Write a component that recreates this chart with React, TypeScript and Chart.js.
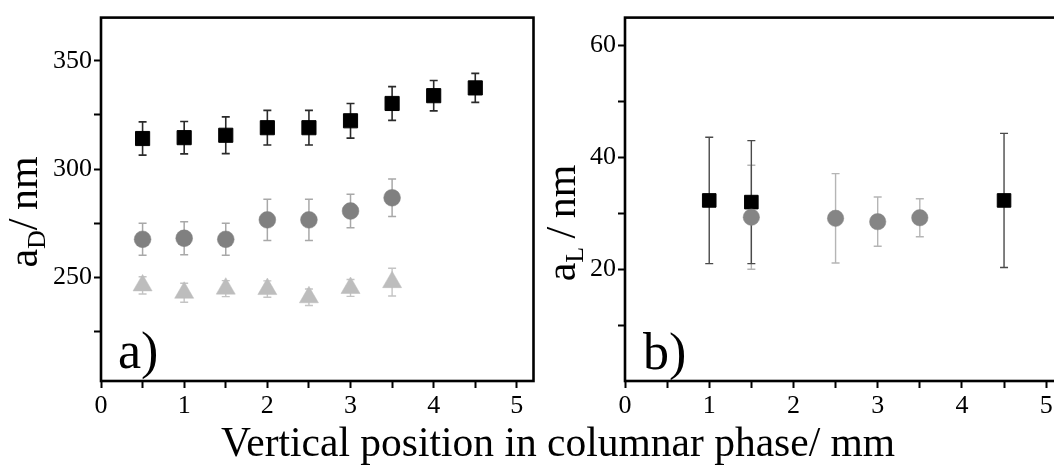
import React, { useEffect, useRef } from "react";
import { Chart, registerables } from "chart.js";

Chart.register(...registerables);

const FONT = "'Liberation Serif', 'Times New Roman', Times, serif";

// ---- axis ticks ----
const xTicks = [0, 0.5, 1, 1.5, 2, 2.5, 3, 3.5, 4, 4.5, 5];
const xTickLabels = ["0", "", "1", "", "2", "", "3", "", "4", "", "5"];
const leftYTicks = [225, 250, 275, 300, 325, 350];
const leftYTickLabels = ["", "250", "", "300", "", "350"];
const rightYTicks = [10, 20, 30, 40, 50, 60];
const rightYTickLabels = ["", "20", "", "40", "", "60"];

// ---- panel a) a_D / nm ----
const aDSquareX = [0.5, 1, 1.5, 2, 2.5, 3, 3.5, 4, 4.5];
const aDSquares = [314.1, 314.5, 315.6, 319.1, 319.1, 322.3, 330.3, 333.9, 337.5];
const aDSquaresErr = [7.7, 7.5, 8.5, 8, 8, 8, 7.8, 7, 6.7];

const aDCircleX = [0.5, 1, 1.5, 2, 2.5, 3, 3.5];
const aDCircles = [267.5, 268, 267.5, 276.5, 276.5, 280.6, 286.7];
const aDCirclesErr = [7.4, 7.6, 7.4, 9.5, 9.5, 7.7, 8.7];

const aDTriangleX = [0.5, 1, 1.5, 2, 2.5, 3, 3.5];
const aDTriangles = [246.2, 242.8, 244.7, 244.5, 240.7, 245.0, 247.7];
const aDTrianglesErr = [4, 4.4, 3.7, 3.8, 3.8, 3.9, 6.4];

// ---- panel b) a_L / nm ----
const aLSquareX = [1, 1.5, 4.5];
const aLSquares = [32.3, 32.0, 32.3];
const aLSquaresErr = [11.3, 11, 12];

const aLCircleX = [1.5, 2.5, 3, 3.5];
const aLCircles = [29.3, 29.1, 28.5, 29.2];
const aLCirclesErr = [9.3, 8, 4.4, 3.4];

const toPoints = (xs: number[], ys: number[]) => xs.map((x, i) => ({ x, y: ys[i] }));

const errorBarPlugin = {
  id: "errorBars",
  beforeDatasetsDraw(chart: any) {
    const ctx = chart.ctx;
    const xs = chart.scales.x;
    const ys = chart.scales.y;
    const area = chart.chartArea;
    ctx.save();
    ctx.beginPath();
    ctx.rect(area.left, area.top, area.right - area.left, area.bottom - area.top);
    ctx.clip();
    chart.data.datasets.forEach((ds: any) => {
      const errs = ds.errors as number[] | undefined;
      if (!errs) return;
      ctx.strokeStyle = ds.errorColor;
      ctx.lineWidth = ds.errorWidth || 1.5;
      const cap = ds.capHalf || 4;
      ds.data.forEach((p: any, j: number) => {
        const x = xs.getPixelForValue(p.x);
        const yTop = ys.getPixelForValue(p.y + errs[j]);
        const yBot = ys.getPixelForValue(p.y - errs[j]);
        ctx.beginPath();
        ctx.moveTo(x, yTop);
        ctx.lineTo(x, yBot);
        ctx.moveTo(x - cap, yTop);
        ctx.lineTo(x + cap, yTop);
        ctx.moveTo(x - cap, yBot);
        ctx.lineTo(x + cap, yBot);
        ctx.stroke();
      });
    });
    ctx.restore();
  },
};

const framePlugin = {
  id: "frame",
  afterDatasetsDraw(chart: any) {
    const ctx = chart.ctx;
    const a = chart.chartArea;
    ctx.save();
    ctx.strokeStyle = "#000";
    ctx.lineWidth = 2.6;
    ctx.strokeRect(a.left, a.top, a.right - a.left, a.bottom - a.top);
    ctx.restore();
  },
};

const textPlugin = {
  id: "panelText",
  afterDraw(chart: any, _args: any, opts: any) {
    const ctx = chart.ctx;
    ctx.save();
    ctx.fillStyle = "#000";
    // panel label
    ctx.font = `${opts.labelSize}px ${FONT}`;
    ctx.textBaseline = "alphabetic";
    ctx.textAlign = "left";
    ctx.fillText(opts.label, opts.labelX, opts.labelY);
    // rotated y title with subscript
    const size = opts.titleSize;
    const subSize = size * 0.62;
    ctx.font = `${size}px ${FONT}`;
    const w1 = ctx.measureText(opts.titleMain).width;
    const w3 = ctx.measureText(opts.titleRest).width;
    ctx.font = `${subSize}px ${FONT}`;
    const w2 = ctx.measureText(opts.titleSub).width;
    const total = w1 + w2 + w3;
    ctx.translate(opts.titleX, opts.titleY);
    ctx.rotate(-Math.PI / 2);
    let x = -total / 2;
    ctx.font = `${size}px ${FONT}`;
    ctx.fillText(opts.titleMain, x, 0);
    x += w1;
    ctx.font = `${subSize}px ${FONT}`;
    ctx.fillText(opts.titleSub, x, size * 0.2);
    x += w2;
    ctx.font = `${size}px ${FONT}`;
    ctx.fillText(opts.titleRest, x, 0);
    ctx.restore();
  },
};

function makeOptions(p: {
  yMin: number;
  yMax: number;
  yTicks: number[];
  yLabels: string[];
  yWidth: number;
  padRight: number;
  text: any;
}) {
  return {
    responsive: false,
    animation: false as const,
    events: [],
    layout: { padding: { top: 15, right: p.padRight, left: 0, bottom: 0 } },
    plugins: {
      legend: { display: false },
      tooltip: { enabled: false },
      panelText: p.text,
    },
    scales: {
      x: {
        type: "linear" as const,
        min: 0,
        max: 5.2,
        afterBuildTicks: (scale: any) => {
          scale.ticks = xTicks.map((v) => ({ value: v }));
        },
        afterFit: (scale: any) => {
          scale.height = 39;
        },
        border: { display: false },
        grid: {
          drawOnChartArea: false,
          drawTicks: true,
          tickLength: 7,
          tickWidth: 2,
          tickColor: "#000",
        },
        ticks: {
          autoSkip: false,
          maxRotation: 0,
          padding: 3,
          color: "#000",
          font: { family: FONT, size: 26 },
          callback: (_v: any, i: number) => xTickLabels[i] ?? "",
        },
      },
      y: {
        type: "linear" as const,
        min: p.yMin,
        max: p.yMax,
        afterBuildTicks: (scale: any) => {
          scale.ticks = p.yTicks.map((v) => ({ value: v }));
        },
        afterFit: (scale: any) => {
          scale.width = p.yWidth;
        },
        border: { display: false },
        grid: {
          drawOnChartArea: false,
          drawTicks: true,
          tickLength: 7,
          tickWidth: 2,
          tickColor: "#000",
        },
        ticks: {
          autoSkip: false,
          padding: 2,
          color: "#000",
          font: { family: FONT, size: 26 },
          callback: (_v: any, i: number) => p.yLabels[i] ?? "",
        },
      },
    },
  };
}

export default function App() {
  const leftRef = useRef<HTMLCanvasElement>(null);
  const rightRef = useRef<HTMLCanvasElement>(null);

  useEffect(() => {
    const left = new Chart(leftRef.current as HTMLCanvasElement, {
      type: "scatter",
      data: {
        datasets: [
          {
            data: toPoints(aDSquareX, aDSquares),
            pointStyle: "rect",
            pointRadius: 10,
            backgroundColor: "#000",
            borderColor: "#000",
            borderWidth: 1,
            errors: aDSquaresErr,
            errorColor: "#2a2a2a",
            errorWidth: 1.6,
            order: 3,
          } as any,
          {
            data: toPoints(aDCircleX, aDCircles),
            pointStyle: "circle",
            pointRadius: 8.4,
            backgroundColor: "#808080",
            borderColor: "#808080",
            borderWidth: 0.5,
            errors: aDCirclesErr,
            errorColor: "#a8a8a8",
            errorWidth: 1.5,
            order: 2,
          } as any,
          {
            data: toPoints(aDTriangleX, aDTriangles),
            pointStyle: "triangle",
            pointRadius: 11,
            backgroundColor: "#bdbdbd",
            borderColor: "#bdbdbd",
            borderWidth: 0.5,
            errors: aDTrianglesErr,
            errorColor: "#c4c4c4",
            errorWidth: 1.4,
            order: 1,
          } as any,
        ],
      },
      options: makeOptions({
        yMin: 202,
        yMax: 370,
        yTicks: leftYTicks,
        yLabels: leftYTickLabels,
        yWidth: 101,
        padRight: 5,
        text: {
          label: "a)",
          labelSize: 52,
          labelX: 118,
          labelY: 368,
          titleMain: "a",
          titleSub: "D",
          titleRest: "/\u2009nm",
          titleSize: 42,
          titleX: 37,
          titleY: 212,
        },
      }) as any,
      plugins: [errorBarPlugin, framePlugin, textPlugin],
    });

    const right = new Chart(rightRef.current as HTMLCanvasElement, {
      type: "scatter",
      data: {
        datasets: [
          {
            data: toPoints(aLCircleX, aLCircles),
            pointStyle: "circle",
            pointRadius: 8.2,
            backgroundColor: "#858585",
            borderColor: "#858585",
            borderWidth: 0.5,
            errors: aLCirclesErr,
            errorColor: "#b5b5b5",
            errorWidth: 1.4,
            order: 1,
          } as any,
          {
            data: toPoints(aLSquareX, aLSquares),
            pointStyle: "rect",
            pointRadius: 9.6,
            backgroundColor: "#000",
            borderColor: "#000",
            borderWidth: 1,
            errors: aLSquaresErr,
            errorColor: "#4a4a4a",
            errorWidth: 1.4,
            order: 2,
          } as any,
        ],
      },
      options: makeOptions({
        yMin: 0,
        yMax: 65,
        yTicks: rightYTicks,
        yLabels: rightYTickLabels,
        yWidth: 80,
        padRight: 12,
        text: {
          label: "b)",
          labelSize: 52,
          labelX: 643 - 545,
          labelY: 369,
          titleMain: "a",
          titleSub: "L",
          titleRest: "\u2009/\u2009nm",
          titleSize: 42,
          titleX: 575 - 545,
          titleY: 223,
        },
      }) as any,
      plugins: [errorBarPlugin, framePlugin, textPlugin],
    });

    return () => {
      left.destroy();
      right.destroy();
    };
  }, []);

  return (
    <div
      style={{
        position: "fixed",
        left: 0,
        top: 0,
        width: 1054,
        height: 469,
        overflow: "hidden",
        background: "#fff",
      }}
    >
      <canvas
        ref={leftRef}
        width={545}
        height={420}
        style={{ position: "absolute", left: 0, top: 0, width: 545, height: 420 }}
      />
      <canvas
        ref={rightRef}
        width={530}
        height={420}
        style={{ position: "absolute", left: 545, top: 0, width: 530, height: 420 }}
      />
      <div
        style={{
          position: "absolute",
          left: 31,
          top: 422,
          width: 1054,
          textAlign: "center",
          fontFamily: FONT,
          fontSize: 41.5,
          lineHeight: 1,
          color: "#000",
          whiteSpace: "nowrap",
        }}
      >
        Vertical position in columnar phase/ mm
      </div>
    </div>
  );
}
